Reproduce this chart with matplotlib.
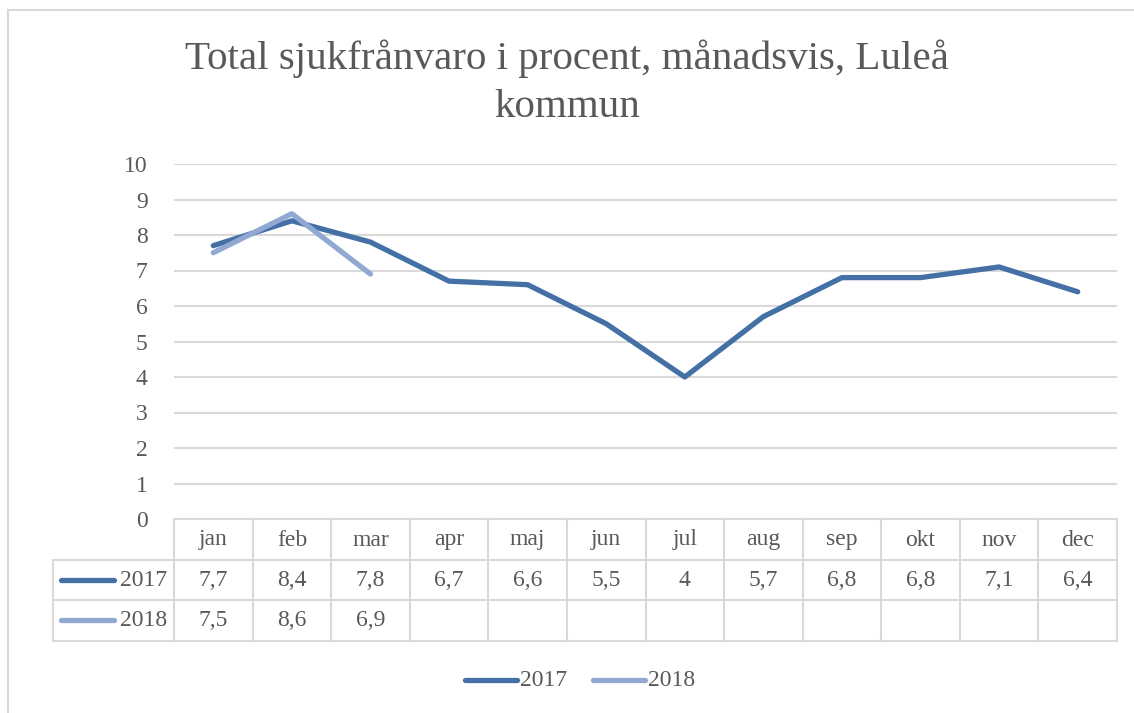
import matplotlib
matplotlib.use("Agg")
import matplotlib.pyplot as plt
from matplotlib.transforms import blended_transform_factory
from matplotlib.lines import Line2D

months = ['jan', 'feb', 'mar', 'apr', 'maj', 'jun', 'jul', 'aug', 'sep', 'okt', 'nov', 'dec']
v2017 = [7.7, 8.4, 7.8, 6.7, 6.6, 5.5, 4, 5.7, 6.8, 6.8, 7.1, 6.4]
v2018 = [7.5, 8.6, 6.9]
series = ['2017', '2018']
title = 'Total sjukfrånvaro i procent, månadsvis, Luleå\nkommun'

c2017 = '#4470a6'
c2018 = '#91a9d2'
txt = '#595959'
grid = '#d9d9d9'
fs = 17

plt.rcParams['font.family'] = ['Liberation Serif', 'DejaVu Serif']

W, H = 1134, 713
fig = plt.figure(figsize=(W / 100, H / 100), dpi=100)


def fx(x):
    return x / W


def fy(y):
    return 1 - y / H


def fline(xs, ys, **kw):
    fig.add_artist(Line2D([fx(x) for x in xs], [fy(y) for y in ys], transform=fig.transFigure, **kw))


# outer chart frame (only top and left edges are visible)
fline([8, 1134], [10, 10], color=grid, lw=1.5)
fline([8, 8], [10, 713], color=grid, lw=1.5)

ax = fig.add_axes([fx(174), fy(519), fx(1117) - fx(174), fy(164) - fy(519)])
ax.set_xlim(-0.5, 11.5)
ax.set_ylim(0, 10)
ax.set_yticks(range(0, 11))
ax.set_xticks([])
ax.grid(axis='y', color=grid, lw=1.5)
ax.set_axisbelow(True)
for s in ax.spines.values():
    s.set_visible(False)
ax.tick_params(axis='y', length=0, pad=19, labelsize=fs, labelcolor=txt)

ax.plot(range(len(v2017)), v2017, color=c2017, lw=3.8, solid_capstyle='round', solid_joinstyle='round')
ax.plot(range(len(v2018)), v2018, color=c2018, lw=3.8, solid_capstyle='round', solid_joinstyle='round')

fig.text(0.5, fy(83), title, ha='center', va='center', fontsize=29.5, color=txt, linespacing=1.4)

# data table below the plot
tr = blended_transform_factory(ax.transData, fig.transFigure)
rows_y = [519, 560, 600, 641]
n = len(months)
for i in range(n + 1):
    ax.add_line(Line2D([i - 0.5, i - 0.5], [fy(519), fy(641)], transform=tr, color=grid, lw=1.5, clip_on=False))
for y in rows_y:
    ax.add_line(Line2D([-0.5, n - 0.5], [fy(y), fy(y)], transform=tr, color=grid, lw=1.5, clip_on=False))
# series label column
for y in rows_y[1:]:
    fline([53, 174], [y, y], color=grid, lw=1.5)
fline([53, 53], [560, 641], color=grid, lw=1.5)

for i, m in enumerate(months):
    ax.text(i, fy(540), m, transform=tr, ha='center', va='center', fontsize=fs, color=txt)
for vals, y in [(v2017, 580), (v2018, 620)]:
    for i, v in enumerate(vals):
        lab = ('%g' % v).replace('.', ',')
        ax.text(i, fy(y), lab, transform=tr, ha='center', va='center', fontsize=fs, color=txt)

for name, col, y in [(series[0], c2017, 580), (series[1], c2018, 620)]:
    fline([61, 114], [y, y], color=col, lw=3.8, solid_capstyle='round')
    fig.text(fx(167), fy(y), name, ha='right', va='center', fontsize=fs, color=txt)

# legend
for name, col, x0 in [(series[0], c2017, 465), (series[1], c2018, 593)]:
    fline([x0, x0 + 52], [680, 680], color=col, lw=3.8, solid_capstyle='round')
    fig.text(fx(x0 + 55), fy(680), name, ha='left', va='center', fontsize=fs, color=txt)

fig.savefig('out.png', dpi=100)
